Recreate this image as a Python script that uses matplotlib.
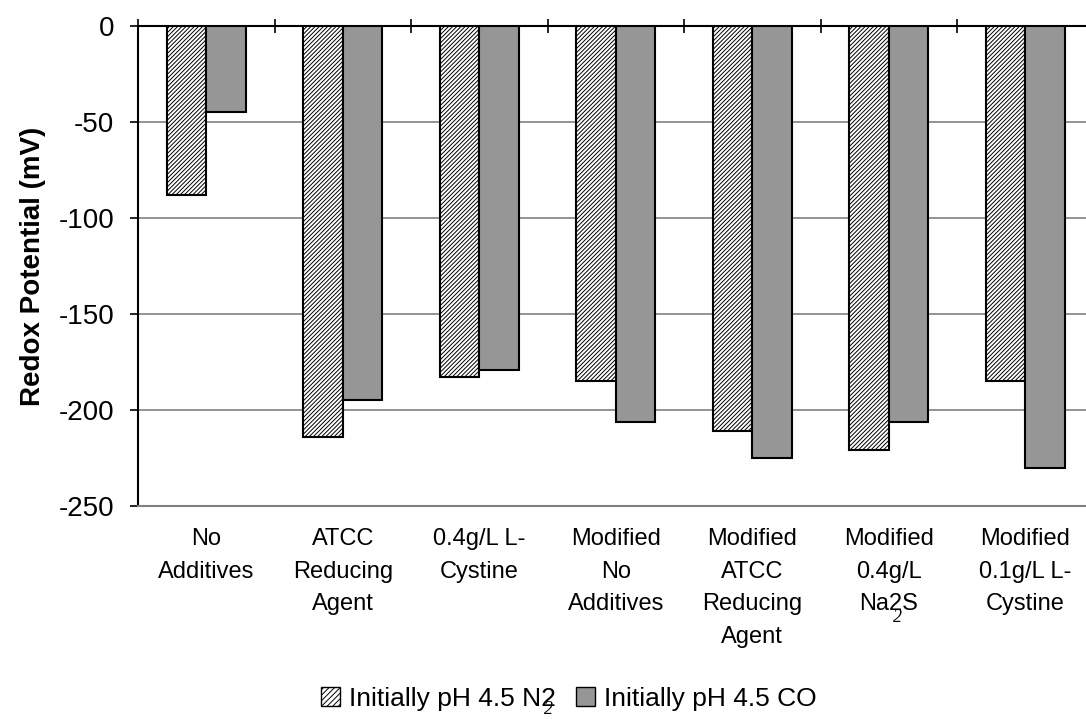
import matplotlib
matplotlib.use("Agg")
import matplotlib.pyplot as plt
import matplotlib.patches as mpatches
import numpy as np

plt.rcParams['font.family'] = ['Liberation Sans', 'DejaVu Sans']
plt.rcParams['hatch.linewidth'] = 0.7

# Redox potential (mV) for each medium
categories = ["No\nAdditives", "ATCC\nReducing\nAgent", "0.4g/L L-\nCystine",
              "Modified\nNo\nAdditives", "Modified\nATCC\nReducing\nAgent",
              "Modified\n0.4g/L\nNa2S", "Modified\n0.1g/L L-\nCystine"]
n2_values = [-88, -214, -183, -185, -211, -221, -185]
co_values = [-45, -195, -179, -206, -225, -206, -230]
series_names = ["Initially pH 4.5 N2", "Initially pH 4.5 CO"]
y_ticks = [0, -50, -100, -150, -200, -250]

HATCH = '/' * 8
GREY = '#969696'

fig = plt.figure(figsize=(10.86, 7.19), dpi=100)
ax = fig.add_axes([0.1271, 0.2962, 0.8798, 0.6676])

x = np.arange(len(categories))
w = 0.29
ax.bar(x - w / 2, n2_values, w, color='white', edgecolor='black',
       hatch=HATCH, linewidth=1.5, zorder=3)
ax.bar(x + w / 2, co_values, w, color=GREY, edgecolor='black',
       linewidth=1.5, zorder=3)

ax.set_xlim(-0.5, len(categories) - 0.5)
ax.set_ylim(-250, 0)
ax.set_yticks(y_ticks)
ax.set_yticklabels([str(v) for v in y_ticks], fontsize=20)
ax.tick_params(axis='y', direction='out', length=6, width=1.2, pad=11)
ax.yaxis.grid(True, color='#808080', linewidth=1.2, zorder=0)

# category axis drawn along y = 0, ticks between groups
ax.xaxis.set_ticks_position('top')
ax.set_xticks(np.arange(-0.5, len(categories), 1.0))
ax.set_xticklabels([])
ax.tick_params(axis='x', direction='inout', length=10, width=1.2)

ax.spines['right'].set_visible(False)
ax.spines['bottom'].set_color('#808080')
ax.spines['bottom'].set_linewidth(1.5)
ax.spines['top'].set_linewidth(1.5)
ax.spines['left'].set_linewidth(1.5)

for i, lab in enumerate(categories):
    ax.annotate(lab, xy=(i, 0), xycoords=('data', 'axes fraction'),
                xytext=(0, -16), textcoords='offset points',
                ha='center', va='top', fontsize=17, linespacing=1.62)

ax.set_ylabel("Redox Potential (mV)", fontsize=20, fontweight='bold', labelpad=9)

handles = [mpatches.Patch(facecolor='white', edgecolor='black', hatch='/' * 6, linewidth=1),
           mpatches.Patch(facecolor=GREY, edgecolor='black', linewidth=1)]
fig.legend(handles, series_names, loc='center', bbox_to_anchor=(0.5235, 0.028),
           ncol=2, frameon=False, fontsize=19, handlelength=0.72, handleheight=0.72,
           handletextpad=0.34, columnspacing=0.76, borderpad=0, borderaxespad=0)

# stray subscript digits
fig.text(897 / 1086, 1 - 617 / 719, "2", family='Liberation Serif', style='italic',
         fontsize=13, ha='center', va='center')
fig.text(548 / 1086, 1 - 709 / 719, "2", family='Liberation Serif', style='italic',
         fontsize=13, ha='center', va='center')

fig.savefig("out.png", dpi=100)
